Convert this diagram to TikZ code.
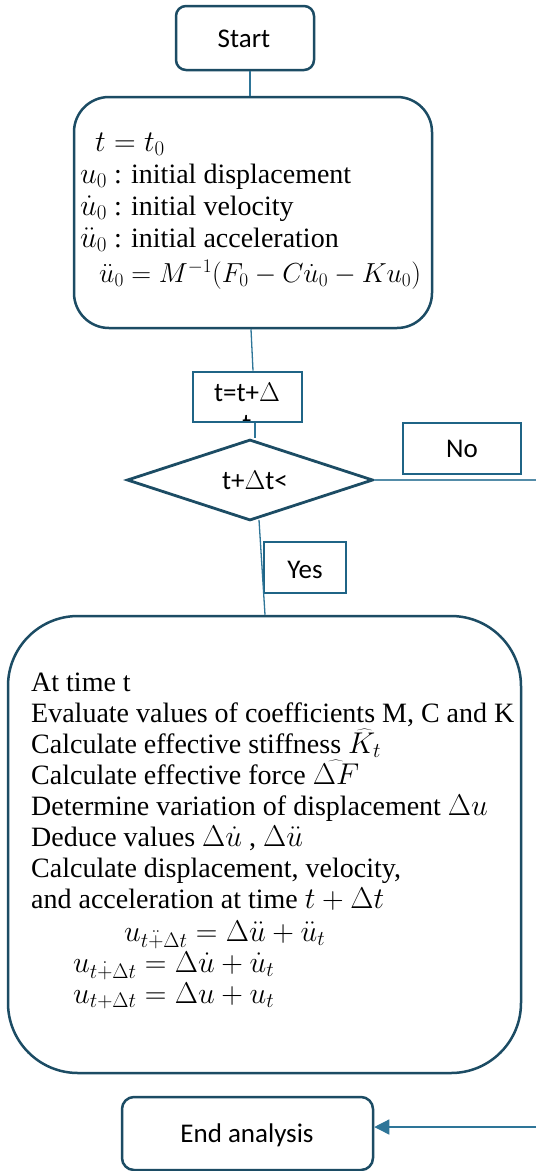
\documentclass[tikz,border=0pt]{standalone}
\usepackage{fix-cm}
\usepackage{fontspec}
\setmainfont{Liberation Serif}
\newfontfamily\sansf{Carlito}
\usetikzlibrary{shapes.geometric,arrows.meta}
\definecolor{darkc}{RGB}{28,76,100}
\definecolor{rectc}{RGB}{31,100,134}
\definecolor{linec}{RGB}{46,117,152}
\definecolor{lightc}{RGB}{84,140,168}
\newcommand\mth[2][30]{{\fontsize{#1}{31}\selectfont$#2$}}
\begin{document}
\begin{tikzpicture}[x=1pt,y=-1pt,
  rbox/.style={draw=darkc, line width=2.5pt, rounded corners=#1, inner sep=0pt},
  sbox/.style={draw=rectc, line width=2.8pt, inner sep=0pt},
  sans/.style={font=\fontsize{27}{31}\selectfont\sansf, inner sep=0pt},
  txt/.style={font=\fontsize{28}{31}\selectfont, inner sep=0pt, anchor=base west},
  conn/.style={draw=linec, line width=1.3pt},
]
\useasboundingbox (0,0) rectangle (536,1171);
\fill[white] (0,0) rectangle (536,1171);

% Start
\node[rbox=10pt, minimum width=138pt, minimum height=64pt] (start) at (245,38) {};
\node[sans] (starttxt) at (244,39) {Start};

% initial box
\node[rbox=35pt, minimum width=358pt, minimum height=231pt] (init) at (253,212.5) {};
\node[txt] (i1) at (95,151) {\mth{t = t_0}};
\node[txt] (i2) at (80,183) {\mth{u_0} : initial displacement};
\node[txt] (i3) at (80,215) {\mth{\dot{u}_0} : initial velocity};
\node[txt] (i4) at (80,247) {\mth{\ddot{u}_0} : initial acceleration};
\node[txt] (i5) at (99,282) {\mth[27.5]{\ddot{u}_0 = M^{-1}(F_0 - C\dot{u}_0 - Ku_0)}};

% t=t+Delta box
\begin{scope}
  \clip (193,372) rectangle (302,422);
  \node[sans] (tt2) at (247,424) {t};
\end{scope}
\node[sbox, minimum width=109pt, minimum height=50pt] (tbox) at (247.5,397) {};
\node[sans] (tt1) at (247,392) {t=t+$\Delta$};

% diamond
\node[diamond, draw=darkc, line width=2.8pt, inner sep=0pt,
      minimum width=246pt, minimum height=81pt] (dec) at (250,480) {};
\node[sans] (dectxt) at (255,480) {t+$\Delta$t<};

% No / Yes
\node[sbox, minimum width=118pt, minimum height=51pt] (no) at (462,448.5) {};
\node[sans] (notxt) at (462,449) {No};
\node[sbox, minimum width=82pt, minimum height=51pt] (yes) at (305,567.5) {};
\node[sans] (yestxt) at (305,570) {Yes};

% big box
\node[rbox=70pt, minimum width=513pt, minimum height=457pt] (main) at (264.5,844.5) {};
\node[txt] (m1) at (31,691) {At time t};
\node[txt] (m2) at (31,722) {Evaluate values of coefficients M, C and K};
\node[txt] (m3) at (31,753) {Calculate effective stiffness \mth{\widehat{K_t}}};
\node[txt] (m4) at (31,784) {Calculate effective force \mth{\widehat{\Delta F}}};
\node[txt] (m5) at (31,815) {Determine variation of displacement \mth{\Delta u}};
\node[txt] (m6) at (31,846) {Deduce values \mth{\Delta\dot{u}} , \mth{\Delta\ddot{u}}};
\node[txt] (m7) at (31,877) {Calculate displacement, velocity,};
\node[txt] (m8) at (31,908) {and acceleration at time \mth{t+\Delta t}};
\node[txt] (m9) at (124,941) {\mth{u_{t\ddot{+}\Delta t} = \Delta\ddot{u} + \ddot{u}_t}};
\node[txt] (m10) at (73,972) {\mth{u_{t\dot{+}\Delta t} = \Delta\dot{u} + \dot{u}_t}};
\node[txt] (m11) at (73,1003) {\mth{u_{t+\Delta t} = \Delta u + u_t}};

% End
\node[rbox=12pt, minimum width=251pt, minimum height=73pt] (endb) at (247.5,1133.5) {};
\node[sans] (endtxt) at (247,1135) {End analysis};

\coordinate (rtop) at (536,480);
\coordinate (rbot) at (536,1127);

% connectors
\draw[conn] ([xshift=5pt]start.south) -- ([xshift=-3pt]init.north);
\draw[conn] ([xshift=-2pt]init.south) -- ([xshift=5.5pt]tbox.north);
\draw[conn] ([xshift=7.5pt]tbox.south) -- ([xshift=5pt]dec.north);
\draw[conn] ([xshift=9pt,yshift=2pt]dec.south) -- ([xshift=0.5pt]main.north);
\draw[draw=lightc, line width=1.8pt] (dec.east) -- (rtop);
\draw[conn, -{Triangle[length=15pt,width=15pt]}] (rbot) -- (endb.east |- rbot);
\end{tikzpicture}
\end{document}
